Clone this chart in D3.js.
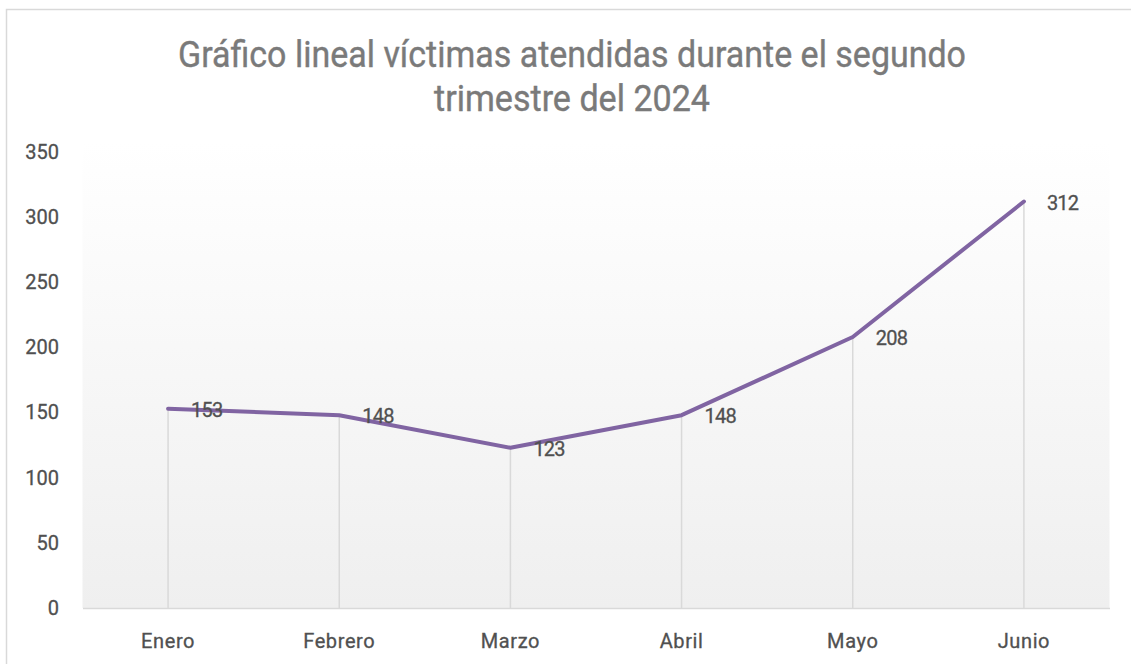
<!DOCTYPE html>
<html>
<head>
<meta charset="utf-8">
<script src="https://cdn.jsdelivr.net/npm/d3@7"></script>
<style>
  html, body { margin: 0; padding: 0; background: #ffffff; }
  svg { display: block; }
  text { font-family: Roboto, "Noto Sans", sans-serif; }
</style>
</head>
<body>
<svg id="chart" width="1131" height="664"></svg>
<script>
const categories = ["Enero", "Febrero", "Marzo", "Abril", "Mayo", "Junio"];
const values = [153, 148, 123, 148, 208, 312];
const yTicks = [0, 50, 100, 150, 200, 250, 300, 350];
const titleLines = ["Gráfico lineal víctimas atendidas durante el segundo", "trimestre del 2024"];

const svg = d3.select("#chart");
const plot = { left: 82.5, right: 1109.5, top: 152, bottom: 608 };

// chart border
svg.append("rect")
  .attr("x", 6.5).attr("y", 9.5)
  .attr("width", 1300).attr("height", 800)
  .attr("fill", "#ffffff").attr("stroke", "#d9d9d9").attr("stroke-width", 1.5);

// gradient for plot area
const defs = svg.append("defs");
const grad = defs.append("linearGradient").attr("id", "plotGrad")
  .attr("x1", 0).attr("y1", 0).attr("x2", 0).attr("y2", 1);
grad.append("stop").attr("offset", "0%").attr("stop-color", "#ffffff");
grad.append("stop").attr("offset", "100%").attr("stop-color", "#efefef");

const x = d3.scaleBand().domain(categories).range([plot.left, plot.right]).padding(0);
const y = d3.scaleLinear().domain([0, 350]).range([plot.bottom, plot.top]);
const cx = c => x(c) + x.bandwidth() / 2;

svg.append("rect")
  .attr("x", plot.left).attr("y", plot.top - 10)
  .attr("width", plot.right - plot.left).attr("height", plot.bottom - plot.top + 10)
  .attr("fill", "url(#plotGrad)");

// title
const title = svg.append("g").attr("fill", "#7a7a7a").attr("font-size", 37)
  .attr("text-anchor", "middle").attr("stroke", "#7a7a7a").attr("stroke-width", 0.4);
const titleBaselines = [67, 111];
const titleWidths = [788, 276];
titleLines.forEach((t, i) => {
  title.append("text")
    .attr("x", 572).attr("y", titleBaselines[i])
    .attr("textLength", titleWidths[i]).attr("lengthAdjust", "spacingAndGlyphs")
    .text(t);
});

// y axis
const yAxis = svg.append("g")
  .attr("transform", "translate(59,0)")
  .call(d3.axisLeft(y).tickValues(yTicks).tickSize(0).tickPadding(0));
yAxis.select(".domain").remove();
yAxis.selectAll("text")
  .attr("fill", "#505050").attr("font-size", 20)
  .attr("stroke", "#505050").attr("stroke-width", 0.3)
  .attr("font-family", "Roboto, sans-serif");

// drop lines
svg.append("g").selectAll("line")
  .data(categories)
  .join("line")
  .attr("x1", (c) => cx(c)).attr("x2", (c) => cx(c))
  .attr("y1", (c, i) => y(values[i])).attr("y2", plot.bottom)
  .attr("stroke", "#d9d9d9").attr("stroke-width", 1.5);

// x axis
const xAxis = svg.append("g")
  .attr("transform", `translate(0,${plot.bottom})`)
  .call(d3.axisBottom(x).tickSize(0).tickPadding(0));
xAxis.select(".domain")
  .attr("stroke", "#d9d9d9").attr("stroke-width", 1.5);
xAxis.selectAll("text")
  .attr("fill", "#505050").attr("font-size", 20)
  .attr("stroke", "#505050").attr("stroke-width", 0.3)
  .attr("font-family", "Roboto, sans-serif")
  .attr("y", 40).attr("dy", 0)
  .attr("letter-spacing", 0.6);

// line
const line = d3.line().x((d, i) => cx(categories[i])).y(d => y(d));
svg.append("path")
  .datum(values)
  .attr("d", line)
  .attr("fill", "none")
  .attr("stroke", "#8064a2")
  .attr("stroke-width", 4)
  .attr("stroke-linejoin", "round")
  .attr("stroke-linecap", "round");

// data labels
svg.append("g").selectAll("text")
  .data(values)
  .join("text")
  .attr("x", (d, i) => cx(categories[i]) + 23)
  .attr("y", d => y(d) + 1)
  .attr("dy", "0.35em")
  .attr("fill", "#505050").attr("font-size", 20)
  .attr("stroke", "#505050").attr("stroke-width", 0.3)
  .attr("letter-spacing", -0.8)
  .text(d => d);
</script>
</body>
</html>
